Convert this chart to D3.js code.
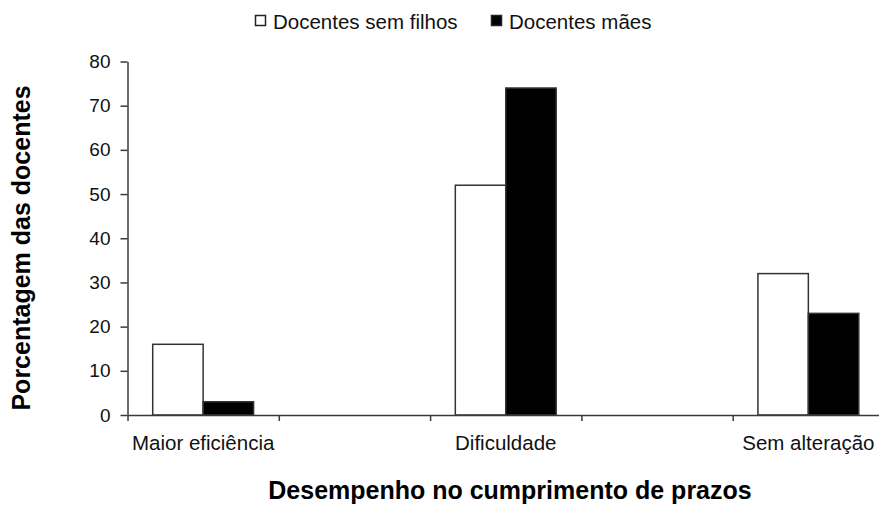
<!DOCTYPE html>
<html>
<head>
<meta charset="utf-8">
<script src="https://cdn.jsdelivr.net/npm/d3@7"></script>
<style>
  html, body { margin: 0; padding: 0; background: #fff; }
  svg { display: block; font-family: "Liberation Sans", Arial, sans-serif; }
</style>
</head>
<body>
<svg id="chart" width="879" height="506"></svg>
<script>
// ---- data ----
const categories = ["Maior eficiência", "", "Dificuldade", "", "Sem alteração"];
const seriesNames = ["Docentes sem filhos", "Docentes mães"];
const semFilhos = [16, null, 52, null, 32];
const maes = [3, null, 74, null, 23];
const yTicks = [0, 10, 20, 30, 40, 50, 60, 70, 80];
const yTitle = "Porcentagem das docentes";
const xTitle = "Desempenho no cumprimento de prazos";

// ---- layout ----
const svg = d3.select("#chart");
const mLeft = 127.5, mRight = 884, mTop = 61.5, mBottom = 415;
const axisColor = "#3a3a3a";
const fills = ["#ffffff", "#000000"];

const x = d3.scaleBand().domain(d3.range(categories.length)).range([mLeft, mRight]).padding(0);
const bw = x.bandwidth();
const xs = d3.scaleBand().domain(d3.range(seriesNames.length)).range([bw / 6, bw * 5 / 6]).padding(0);
const y = d3.scaleLinear().domain([0, 80]).range([mBottom, mTop]);

const series = [semFilhos, maes];
const barData = [];
categories.forEach((c, i) => {
  series.forEach((s, j) => {
    if (s[i] != null) barData.push({ i, j, v: s[i] });
  });
});

svg.append("g").selectAll("rect").data(barData).join("rect")
  .attr("x", d => x(d.i) + xs(d.j))
  .attr("y", d => y(d.v))
  .attr("width", xs.bandwidth())
  .attr("height", d => y(0) - y(d.v))
  .attr("fill", d => fills[d.j])
  .attr("stroke", "#333")
  .attr("stroke-width", 1.5);

// y axis
const yAxis = svg.append("g").attr("transform", `translate(${mLeft},0)`)
  .call(d3.axisLeft(y).tickValues(yTicks).tickSize(7).tickPadding(10).tickSizeOuter(0));
yAxis.select(".domain").attr("stroke", axisColor).attr("stroke-width", 1.5);
yAxis.selectAll(".tick line").attr("stroke", axisColor).attr("stroke-width", 1.5);
yAxis.selectAll("text").attr("font-size", 19).attr("fill", "#111")
  .attr("font-family", "Liberation Sans, Arial, sans-serif");

// x axis (labels at band centers)
const xAxis = svg.append("g").attr("transform", `translate(0,${mBottom})`)
  .call(d3.axisBottom(x).tickFormat(i => categories[i]).tickSize(0).tickPadding(20.5).tickSizeOuter(0));
xAxis.select(".domain").attr("stroke", axisColor).attr("stroke-width", 1.5);
xAxis.selectAll("text").attr("font-size", 20.5).attr("fill", "#111")
  .attr("font-family", "Liberation Sans, Arial, sans-serif");

// x axis tick marks at band edges
const edges = d3.scaleLinear().domain([0, categories.length]).range([mLeft, mRight]);
svg.append("g").attr("transform", `translate(0,${mBottom})`)
  .call(d3.axisBottom(edges).tickValues(d3.range(categories.length + 1)).tickFormat("").tickSize(6).tickSizeOuter(0))
  .call(g => g.select(".domain").remove())
  .selectAll(".tick line").attr("stroke", axisColor).attr("stroke-width", 1.5);

// titles
svg.append("text")
  .attr("x", 510).attr("y", 499)
  .attr("text-anchor", "middle")
  .attr("font-size", 25).attr("font-weight", "bold").attr("fill", "#000")
  .text(xTitle);

svg.append("text")
  .attr("transform", `translate(30,248) rotate(-90)`)
  .attr("text-anchor", "middle")
  .attr("font-size", 25).attr("font-weight", "bold").attr("fill", "#000")
  .text(yTitle);

// legend
const legendX = [255, 491];
const lg = svg.append("g");
seriesNames.forEach((name, j) => {
  lg.append("rect").attr("x", legendX[j] + 0.5).attr("y", 15.5).attr("width", 10).attr("height", 10)
    .attr("fill", fills[j]).attr("stroke", "#222").attr("stroke-width", 1.5);
  lg.append("text").attr("x", legendX[j] + 18).attr("y", 29)
    .attr("font-size", 20.5).attr("fill", "#111")
    .text(name);
});
</script>
</body>
</html>
